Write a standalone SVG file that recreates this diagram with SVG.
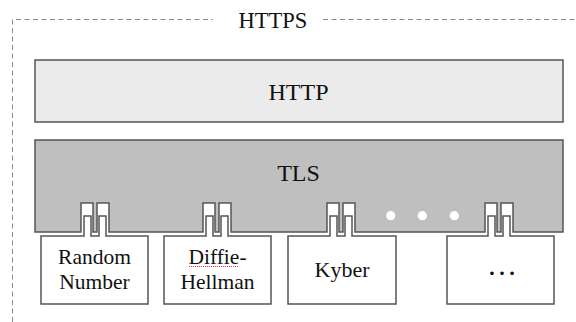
<svg xmlns="http://www.w3.org/2000/svg" width="576" height="322" viewBox="0 0 576 322">
  <style>
    .dash { stroke: #8a8a8a; stroke-width: 1; stroke-dasharray: 5 3.5; fill: none; }
    .edge { stroke: #555; stroke-width: 1.5; stroke-linejoin: miter; }
    .mod { fill: #fff; }
  </style>
  <g font-family="Liberation Serif, Times New Roman, Times, DejaVu Serif, Noto Serif, serif" fill="#111" text-anchor="middle">
  <g id="https">
    <path class="dash" d="M12.5 322 V19.5 H213 M323 19.5 H576"/>
    <text x="273" y="27.5" font-size="22.5">HTTPS</text>
  </g>
  <g id="http">
    <rect x="35" y="60" width="528" height="62" fill="#ebebeb" class="edge"/>
    <text x="298.5" y="100" font-size="24">HTTP</text>
  </g>
  <g id="tls">
    <path class="edge" fill="#bfbfbf" d="M35 140 H563 V232
      H513 V203 H501 V232 H497 V203 H485 V232
      H355 V203 H343 V232 H339 V203 H327 V232
      H231 V203 H219 V232 H215 V203 H203 V232
      H109 V203 H97 V232 H93 V203 H81 V232
      H35 Z"/>
    <text x="298.5" y="181" font-size="24">TLS</text>
    <circle cx="390.7" cy="215.7" r="4.6" fill="#fff"/>
    <circle cx="422.3" cy="215.7" r="4.6" fill="#fff"/>
    <circle cx="454.3" cy="215.7" r="4.6" fill="#fff"/>
  </g>
  <g id="random-number">
    <path class="edge mod" d="M41 304 V236 H84 V216 H91 V236 H99 V216 H106 V236 H148 V304 Z"/>
    <text x="94.5" y="264" font-size="21.5">Random</text>
    <text x="94.5" y="289" font-size="21.5">Number</text>
  </g>
  <g id="diffie-hellman">
    <path class="edge mod" d="M164 304 V236 H206 V216 H213 V236 H221 V216 H228 V236 H271 V304 Z"/>
    <text x="217.5" y="264" font-size="21.5">Diffie-</text>
    <text x="217.5" y="289" font-size="21.5">Hellman</text>
    <path d="M189 266.5 H238" stroke="#e03030" stroke-width="1" stroke-dasharray="1 1" fill="none"/>
  </g>
  <g id="kyber">
    <path class="edge mod" d="M288 304 V236 H330 V216 H337 V236 H345 V216 H352 V236 H396 V304 Z"/>
    <text x="342" y="277" font-size="22">Kyber</text>
  </g>
  <g id="more">
    <path class="edge mod" d="M447 304 V236 H488 V216 H495 V236 H503 V216 H510 V236 H554 V304 Z"/>
    <text x="502" y="275" font-size="30">…</text>
  </g>
  </g>
  <g id="connectors"></g>
</svg>
